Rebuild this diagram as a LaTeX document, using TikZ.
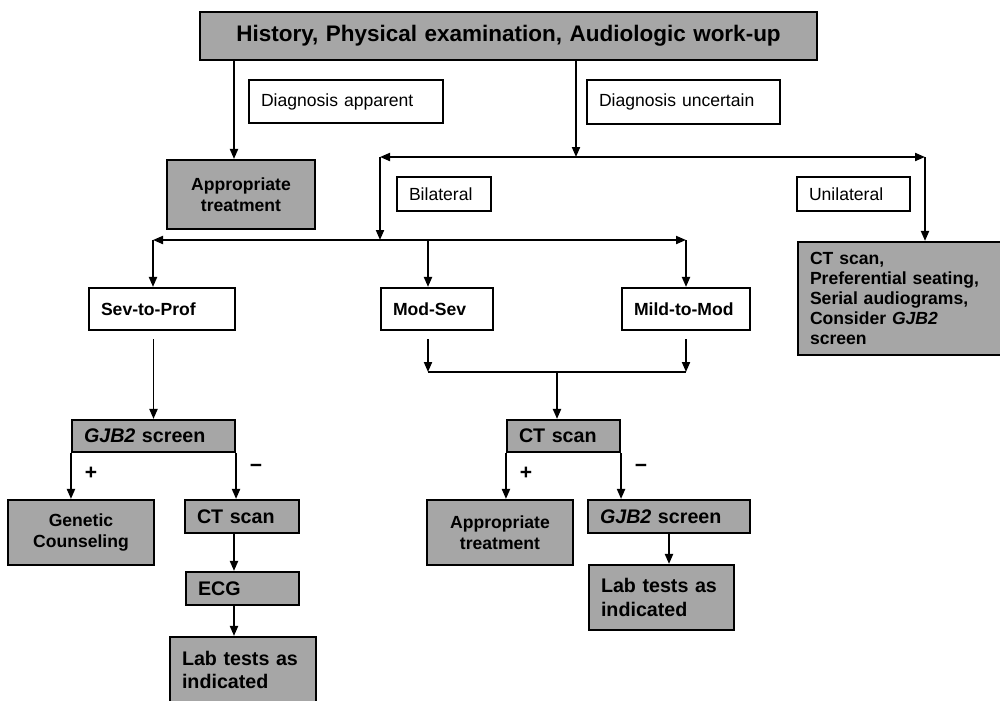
\documentclass[tikz,border=0pt]{standalone}
\usepackage{fontspec}
\setmainfont{Liberation Sans}
\usetikzlibrary{arrows.meta}
\definecolor{boxgray}{RGB}{166,166,166}

\begin{document}
\begin{tikzpicture}[x=0.02cm,y=-0.02cm,>={Triangle[length=0.2cm,width=0.16cm]},line width=1.1pt]
\tikzstyle{box}=[draw=black,line width=1.2pt,inner xsep=0.24cm,inner ysep=0pt,font=\fontsize{10}{12}\selectfont]
\tikzstyle{plain}=[box,fill=white]
\tikzstyle{grade}=[plain,font=\fontsize{10}{12}\selectfont\bfseries]
\tikzstyle{shaded}=[box,fill=boxgray,font=\fontsize{10}{12}\selectfont\bfseries]
\tikzstyle{test}=[shaded,font=\fontsize{11.2}{13.5}\selectfont\bfseries]
\tikzstyle{sign}=[font=\fontsize{12}{12}\selectfont\bfseries,inner sep=0pt,xshift=0.4cm]

\useasboundingbox (0,0) rectangle (1000,700);

% top
\node[shaded,text width=11.86cm,align=center,minimum height=0.96cm,font=\fontsize{12.8}{15}\selectfont\bfseries] (hist) at (508.5,36) {History, Physical examination, Audiologic work-up};
\node[plain,text width=3.40cm,align=left,minimum height=0.86cm] (apparent) at (346,101.5) {Diagnosis apparent};
\node[plain,text width=3.38cm,align=left,minimum height=0.88cm] (uncertain) at (683.5,102) {Diagnosis uncertain};
\node[shaded,text width=2.48cm,align=center,minimum height=1.38cm] (treat1) at (241,194.5) {Appropriate\\treatment};
\node[plain,text width=1.40cm,align=left,minimum height=0.68cm] (bilat) at (444,194) {Bilateral};
\node[plain,text width=1.78cm,align=left,minimum height=0.68cm] (unilat) at (853.5,194) {Unilateral};
\node[shaded,text width=3.82cm,align=left,minimum height=2.26cm,font=\fontsize{10}{11.4}\selectfont\bfseries] (uni) at (905.5,298.5) {CT scan,\\Preferential seating,\\Serial audiograms,\\Consider \textit{GJB2}\\screen};

% degree of loss
\node[grade,text width=2.44cm,align=left,minimum height=0.84cm] (sev) at (162,309) {Sev-to-Prof};
\node[grade,text width=1.76cm,align=left,minimum height=0.84cm] (modsev) at (437,309) {Mod-Sev};
\node[grade,text width=2.08cm,align=left,minimum height=0.84cm] (mild) at (686,309) {Mild-to-Mod};

% left branch
\node[test,text width=2.78cm,align=left,minimum height=0.64cm] (gjb1) at (153.5,436) {\textit{GJB2} screen};
\node[shaded,text width=2.44cm,align=center,minimum height=1.30cm] (counsel) at (81,532.5) {Genetic\\Counseling};
\node[test,text width=1.80cm,align=left,minimum height=0.66cm] (ct1) at (242,516.5) {CT scan};
\node[test,text width=1.78cm,align=left,minimum height=0.66cm] (ecg) at (242.5,588.5) {ECG};
\node[test,text width=2.44cm,align=left,minimum height=1.32cm] (lab1) at (243,670) {Lab tests as\\indicated};

% middle branch
\node[test,text width=1.78cm,align=left,minimum height=0.64cm] (ct2) at (563.5,436) {CT scan};
\node[shaded,text width=2.44cm,align=center,minimum height=1.30cm] (treat2) at (500,532.5) {Appropriate\\treatment};
\node[test,text width=2.76cm,align=left,minimum height=0.66cm] (gjb2) at (669,516.5) {\textit{GJB2} screen};
\node[test,text width=2.42cm,align=left,minimum height=1.30cm] (lab2) at (661.5,597.5) {Lab tests as\\indicated};

% junctions
\coordinate (colL) at (234,0);
\coordinate (split) at (576,157);
\coordinate (splitL) at (380,157);
\coordinate (splitR) at (925,157);
\coordinate (bilatL) at (153,240);
\coordinate (bilatM) at (428,240);
\coordinate (bilatR) at (686,240);
\coordinate (mergeL) at (428,372);
\coordinate (mergeM) at (557,372);
\coordinate (mergeR) at (686,372);

\draw[->] (hist.south -| colL) -- (treat1.north -| colL);
\draw[->] (hist.south -| split) -- (split);
\draw[<->] (splitL) -- (splitR);
\draw[->] (splitL) -- (splitL |- bilatL);
\draw[->] (splitR) -- (uni.north -| splitR);
\draw[<->] (bilatL) -- (bilatR);
\draw[->] (bilatL) -- (sev.north -| bilatL);
\draw[->] (bilatM) -- (modsev.north -| bilatM);
\draw[->] (bilatR) -- (mild.north);
\draw[->,shorten <=0.16cm] (sev.south -| gjb1.north) -- (gjb1.north);
\draw[->,shorten <=0.16cm] (modsev.south -| mergeL) -- (mergeL);
\draw[->,shorten <=0.16cm] (mild.south) -- (mergeR);
\draw (mergeL) -- (mergeR);
\draw[->] (mergeM) -- (ct2.north -| mergeM);

\draw[->] (gjb1.south west) -- node[sign,pos=0.45] {+} (gjb1.south west |- counsel.north);
\draw[->] (gjb1.south east) -- node[sign,pos=0.33] {−} (gjb1.south east |- ct1.north);
\draw[->] (ct1.south -| colL) -- (ecg.north -| colL);
\draw[->] (ecg.south -| colL) -- (lab1.north -| colL);

\draw[->] (ct2.south west) -- node[sign,pos=0.45] {+} (ct2.south west |- treat2.north);
\draw[->] (ct2.south east) -- node[sign,pos=0.33] {−} (ct2.south east |- gjb2.north);
\draw[->] (gjb2.south) -- (gjb2.south |- lab2.north);
\end{tikzpicture}
\end{document}
